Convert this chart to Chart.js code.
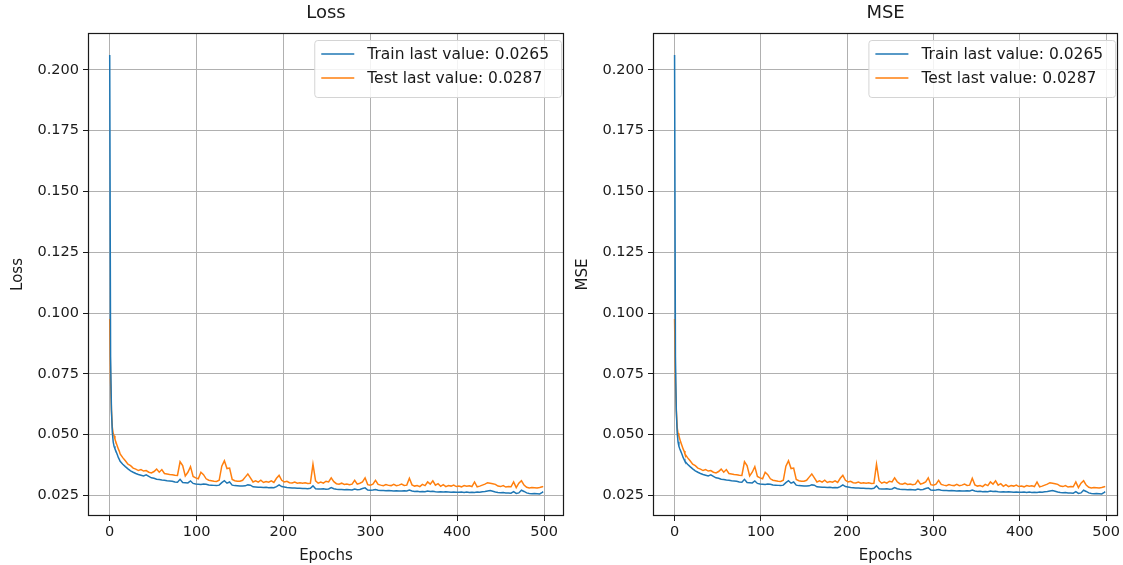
<!DOCTYPE html>
<html>
<head>
<meta charset="utf-8">
<script src="https://cdn.jsdelivr.net/npm/chart.js@4.4.1/dist/chart.umd.min.js"></script>
<style>
  body { margin: 0; background: #fff; }
  #wrap { position: relative; width: 1123px; height: 565px; }
  .box { position: absolute; top: 0; height: 565px; }
</style>
</head>
<body>
<div id="wrap">
  <div class="box" style="left:0;width:570px"><canvas id="lossChart"></canvas></div>
  <div class="box" style="left:570px;width:553px"><canvas id="mseChart"></canvas></div>
</div>
<script>
// values (loss and MSE curves are the same)
const epochs = [
  0, 1, 2, 3, 4, 5, 6, 7, 8, 9, 10, 11,
  12, 15, 18, 21, 24, 27, 30, 33, 36, 39,
  42, 45, 48, 51, 54, 57, 60, 63, 66, 69,
  72, 75, 78, 81, 84, 87, 90, 93, 96, 99,
  102, 105, 108, 111, 114, 117, 120, 123, 126, 129,
  132, 135, 138, 141, 144, 147, 150, 153, 156, 159,
  162, 165, 168, 171, 174, 177, 180, 183, 186, 189,
  192, 195, 198, 201, 204, 207, 210, 213, 216, 219,
  222, 225, 228, 231, 234, 237, 240, 243, 246, 249,
  252, 255, 258, 261, 264, 267, 270, 273, 276, 279,
  282, 285, 288, 291, 294, 297, 300, 303, 306, 309,
  312, 315, 318, 321, 324, 327, 330, 333, 336, 339,
  342, 345, 348, 351, 354, 357, 360, 363, 366, 369,
  372, 375, 378, 381, 384, 387, 390, 393, 396, 399,
  402, 405, 408, 411, 414, 417, 420, 423, 426, 429,
  432, 435, 438, 441, 444, 447, 450, 453, 456, 459,
  462, 465, 468, 471, 474, 477, 480, 483, 486, 489,
  492, 495, 498, 499
];

const trainVals = [
  0.2062, 0.0820, 0.0600, 0.0510, 0.0470, 0.0452, 0.0442, 0.0433, 0.0424, 0.0415, 0.0405, 0.0398,
  0.0390, 0.0378, 0.0368, 0.0359, 0.0351, 0.0345, 0.0340, 0.0336, 0.0333, 0.0330,
  0.0334, 0.0328, 0.0322, 0.0320, 0.0316, 0.0315, 0.0313, 0.0312, 0.0310, 0.0309,
  0.0308, 0.0305, 0.0304, 0.0316, 0.0303, 0.0302, 0.0301, 0.0309, 0.0299, 0.0297,
  0.0296, 0.0295, 0.0297, 0.0296, 0.0293, 0.0292, 0.0291, 0.0290, 0.0292, 0.0302,
  0.0310, 0.0300, 0.0305, 0.0292, 0.0290, 0.0289, 0.0288, 0.0288, 0.0289, 0.0293,
  0.0292, 0.0285, 0.0284, 0.0283, 0.0283, 0.0282, 0.0283, 0.0281, 0.0282, 0.0281,
  0.0286, 0.0293, 0.0286, 0.0284, 0.0282, 0.0281, 0.0280, 0.0280, 0.0279, 0.0279,
  0.0278, 0.0278, 0.0277, 0.0279, 0.0289, 0.0277, 0.0276, 0.0276, 0.0277, 0.0275,
  0.0276, 0.0282, 0.0277, 0.0275, 0.0274, 0.0274, 0.0273, 0.0274, 0.0273, 0.0272,
  0.0276, 0.0273, 0.0274, 0.0278, 0.0281, 0.0272, 0.0271, 0.0272, 0.0274, 0.0271,
  0.0270, 0.0270, 0.0269, 0.0270, 0.0269, 0.0268, 0.0269, 0.0268, 0.0268, 0.0269,
  0.0268, 0.0272, 0.0268, 0.0266, 0.0267, 0.0265, 0.0266, 0.0265, 0.0268, 0.0266,
  0.0267, 0.0265, 0.0264, 0.0265, 0.0264, 0.0265, 0.0264, 0.0263, 0.0264, 0.0263,
  0.0263, 0.0264, 0.0262, 0.0264, 0.0262, 0.0263, 0.0262, 0.0264, 0.0263, 0.0265,
  0.0266, 0.0268, 0.0270, 0.0267, 0.0264, 0.0262, 0.0261, 0.0262, 0.0260, 0.0260,
  0.0259, 0.0265, 0.0258, 0.0260, 0.0271, 0.0266, 0.0260, 0.0258, 0.0257, 0.0258,
  0.0257, 0.0256, 0.0262, 0.0265
];

const testVals = [
  0.0975, 0.0720, 0.0600, 0.0530, 0.0505, 0.0495, 0.0482, 0.0470, 0.0460, 0.0450, 0.0440, 0.0432,
  0.0420, 0.0405, 0.0392, 0.0378, 0.0372, 0.0362, 0.0358, 0.0352, 0.0356, 0.0350,
  0.0352, 0.0345, 0.0342, 0.0348, 0.0358, 0.0345, 0.0356, 0.0340, 0.0338, 0.0336,
  0.0335, 0.0333, 0.0332, 0.0388, 0.0372, 0.0330, 0.0345, 0.0368, 0.0328, 0.0322,
  0.0318, 0.0345, 0.0335, 0.0318, 0.0312, 0.0310, 0.0308, 0.0307, 0.0312, 0.0370,
  0.0392, 0.0360, 0.0362, 0.0315, 0.0310, 0.0308, 0.0308, 0.0312, 0.0325, 0.0338,
  0.0322, 0.0305, 0.0310, 0.0304, 0.0312, 0.0303, 0.0307, 0.0304, 0.0310, 0.0303,
  0.0320, 0.0332, 0.0312, 0.0305, 0.0308, 0.0302, 0.0301, 0.0305, 0.0300, 0.0302,
  0.0300, 0.0302, 0.0299, 0.0300, 0.0378, 0.0310, 0.0300, 0.0305, 0.0300, 0.0308,
  0.0305, 0.0322, 0.0306, 0.0298, 0.0296, 0.0300, 0.0295, 0.0297, 0.0294, 0.0296,
  0.0312, 0.0296, 0.0300, 0.0305, 0.0322, 0.0294, 0.0292, 0.0296, 0.0312, 0.0295,
  0.0292, 0.0290, 0.0294, 0.0291, 0.0290, 0.0295, 0.0290, 0.0292, 0.0296, 0.0291,
  0.0292, 0.0320, 0.0293, 0.0288, 0.0290, 0.0286, 0.0295, 0.0290, 0.0305, 0.0296,
  0.0310, 0.0292, 0.0298, 0.0287, 0.0294, 0.0286, 0.0290, 0.0288, 0.0292, 0.0286,
  0.0288, 0.0285, 0.0290, 0.0287, 0.0289, 0.0286, 0.0305, 0.0285, 0.0288, 0.0292,
  0.0296, 0.0302, 0.0300, 0.0298, 0.0295, 0.0288, 0.0286, 0.0290, 0.0284, 0.0286,
  0.0285, 0.0305, 0.0282, 0.0300, 0.0310, 0.0292, 0.0283, 0.0280, 0.0282, 0.0281,
  0.0280, 0.0282, 0.0285, 0.0287
];

const xTicks = [0, 100, 200, 300, 400, 500];
const yTicks = [0.025, 0.05, 0.075, 0.1, 0.125, 0.15, 0.175, 0.2];
const trainLabel = "Train last value: 0.0265";
const testLabel = "Test last value: 0.0287";

const FONT = "DejaVu Sans";
const INK = "#1a1a1a";
const GRID = "#b0b0b0";

const toPoints = function (vals) {
  return epochs.map((e, i) => ({ x: e, y: vals[i] }));
};

// black box round the plot area + legend in the upper right corner
const framePlugin = {
  id: "frame",
  afterDatasetsDraw(chart) {
    const { ctx, chartArea: a } = chart;
    ctx.save();
    ctx.strokeStyle = INK;
    ctx.lineWidth = 1.2;
    ctx.strokeRect(Math.round(a.left) + 0.5, Math.round(a.top) + 0.5,
      Math.round(a.right - a.left) - 1, Math.round(a.bottom - a.top) - 1);
    ctx.restore();
  },
  afterDraw(chart) {
    const { ctx, chartArea: a } = chart;
    const ds = chart.data.datasets;
    ctx.save();
    ctx.font = "15.5px '" + FONT + "'";
    let textW = 0;
    for (let d of ds) textW = Math.max(textW, ctx.measureText(d.label).width);
    const w = 53 + textW + 12;
    const h = 57;
    const x0 = a.right - 3 - w;
    const y0 = a.top + 7;
    ctx.beginPath();
    ctx.roundRect(x0 + 0.5, y0 + 0.5, w, h, 3);
    ctx.fillStyle = "rgba(255,255,255,0.85)";
    ctx.fill();
    ctx.strokeStyle = "#d4d4d4";
    ctx.lineWidth = 1;
    ctx.stroke();
    ds.forEach(function (d, i) {
      const y = y0 + 14 + i * 24;
      ctx.beginPath();
      ctx.moveTo(x0 + 7, y);
      ctx.lineTo(x0 + 40, y);
      ctx.strokeStyle = d.borderColor;
      ctx.lineWidth = 1.5;
      ctx.stroke();
      ctx.fillStyle = INK;
      ctx.textBaseline = "middle";
      ctx.fillText(d.label, x0 + 53, y + 1);
    });
    ctx.restore();
  },
};

const makeChart = function (id, title, yLabel, yTitlePad, yWidth, padRight, xMax) {
  const config = {
    type: "line",
    data: {
      datasets: [
        {
          label: trainLabel,
          data: toPoints(trainVals),
          borderColor: "#1f77b4",
          borderWidth: 1.5,
          pointRadius: 0,
          tension: 0,
          fill: false,
        },
        {
          label: testLabel,
          data: toPoints(testVals),
          borderColor: "#ff7f0e",
          borderWidth: 1.5,
          pointRadius: 0,
          tension: 0,
          fill: false,
        },
      ],
    },
    options: {
      responsive: true,
      maintainAspectRatio: false,
      animation: false,
      layout: { padding: { left: 0, right: padRight, top: 0, bottom: 0 } },
      plugins: {
        legend: { display: false },
        title: { display: false },
        tooltip: { enabled: false },
      },
      scales: {
        x: {
          type: "linear",
          position: "bottom",
          min: -25,
          max: xMax,
          afterBuildTicks: (s) => { s.ticks = xTicks.map((v) => ({ value: v })); },
          afterFit: (s) => { s.height = 49; },
          grid: { color: GRID, lineWidth: 1, tickLength: 5, tickColor: INK },
          border: { display: false },
          ticks: { color: INK, font: { size: 14.5, family: FONT }, padding: 3, maxRotation: 0 },
          title: {
            display: true,
            text: "Epochs",
            color: INK,
            font: { size: 15, family: FONT },
            padding: { top: 0, bottom: 0 },
          },
        },
        top: {
          type: "linear",
          position: "top",
          min: -25,
          max: xMax,
          afterFit: (s) => { s.height = 33; },
          grid: { display: false, drawTicks: false },
          border: { display: false },
          ticks: { display: false },
          title: {
            display: true,
            text: title,
            color: INK,
            font: { size: 18, family: FONT },
            padding: { top: 3, bottom: 0 },
          },
        },
        y: {
          type: "linear",
          position: "left",
          min: 0.0165,
          max: 0.2152,
          afterBuildTicks: (s) => { s.ticks = yTicks.map((v) => ({ value: v })); },
          afterFit: (s) => { s.width = yWidth; },
          grid: { color: GRID, lineWidth: 1, tickLength: 5, tickColor: INK },
          border: { display: false },
          ticks: {
            color: INK,
            font: { size: 14.5, family: FONT },
            padding: 4,
            callback: (v) => v.toFixed(3),
          },
          title: {
            display: true,
            text: yLabel,
            color: INK,
            font: { size: 15, family: FONT },
            padding: { top: yTitlePad, bottom: 0 },
          },
        },
      },
    },
    plugins: [framePlugin],
  };
  return new Chart(document.getElementById(id), config);
};

const lossChart = makeChart("lossChart", "Loss", "Loss", 9, 88, 6, 523);
const mseChart = makeChart("mseChart", "MSE", "MSE", 4, 83, 3, 514);
</script>
</body>
</html>
